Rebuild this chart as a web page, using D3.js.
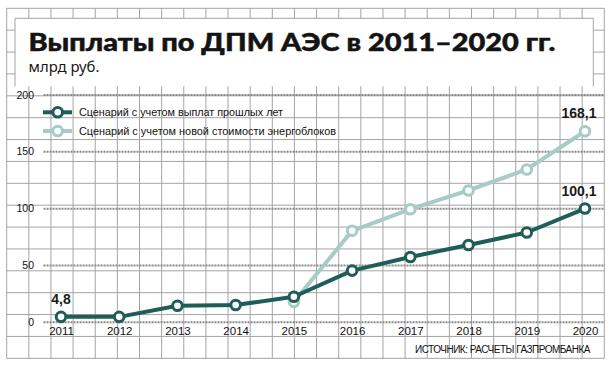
<!DOCTYPE html>
<html><head><meta charset="utf-8">
<script src="https://cdn.jsdelivr.net/npm/d3@7/dist/d3.min.js"></script>
<style>
html,body{margin:0;padding:0;background:#fff;}
svg{display:block;}
</style></head>
<body>
<svg id="chart" width="612" height="366"></svg>
<script>
const title = "Выплаты по ДПМ АЭС в 2011–2020 гг.";
const subtitle = "млрд руб.";
const source = "ИСТОЧНИК: РАСЧЕТЫ ГАЗПРОМБАНКА";
const years = [2011, 2012, 2013, 2014, 2015, 2016, 2017, 2018, 2019, 2020];
const seriesNames = ["Сценарий с учетом выплат прошлых лет", "Сценарий с учетом новой стоимости энергоблоков"];
const pastYears = [2011, 2012, 2013, 2014, 2015, 2016, 2017, 2018, 2019, 2020];
const pastValues = [4.8, 4.8, 14.5, 15.2, 22.5, 45.5, 57.5, 68, 79, 100.1];
const newYears = [2015, 2016, 2017, 2018, 2019, 2020];
const newValues = [18, 80.5, 99.5, 116, 134.5, 168.1];
const yTicks = [0, 50, 100, 150, 200];
const labels = [
  {series: 0, year: 2011, text: "4,8"},
  {series: 0, year: 2020, text: "100,1"},
  {series: 1, year: 2020, text: "168,1"}
];

const svg = d3.select("#chart");
const dark = "#1f5d58", light = "#a7cbc5", gridCol = "#a4a4a4";
const narrow = "'Liberation Sans Narrow','Liberation Sans',Arial,sans-serif";

// graph-paper background
const gx0 = 6.7, gx1 = 604.3, gy0 = 8.3, gy1 = 358.3;
const g0 = svg.append("g");
const nV = 28, nH = 17;
for (let i = 0; i < nV; i++) {
  const x = gx0 + (gx1 - gx0) * i / (nV - 1);
  g0.append("line").attr("x1", x).attr("x2", x).attr("y1", gy0).attr("y2", gy1)
    .attr("stroke", gridCol).attr("stroke-width", 1);
}
for (let j = 0; j < nH; j++) {
  const y = gy0 + (gy1 - gy0) * j / (nH - 1);
  g0.append("line").attr("x1", gx0).attr("x2", gx1).attr("y1", y).attr("y2", y)
    .attr("stroke", gridCol).attr("stroke-width", 1);
}
// title box
g0.append("rect").attr("x", 15).attr("y", 18.3).attr("width", 578.3).attr("height", 68).attr("fill", "#fff");
g0.append("path").attr("d", "M15,86.3V18.3H593.3V86.3").attr("fill", "none").attr("stroke", gridCol).attr("stroke-width", 1);

svg.append("text").attr("x", 28.5).attr("y", 50.5).text(title)
  .attr("font-family", "Lato, Roboto, 'Liberation Sans', sans-serif").attr("font-weight", 900)
  .attr("font-size", 24.5).attr("fill", "#141414")
  .attr("stroke", "#141414").attr("stroke-width", 0.5)
  .attr("textLength", 527).attr("lengthAdjust", "spacingAndGlyphs");
svg.append("text").attr("x", 28.5).attr("y", 72).text(subtitle)
  .attr("font-family", "'Noto Sans', 'Open Sans', sans-serif").attr("font-size", 13.5).attr("fill", "#161616")
  .attr("textLength", 71).attr("lengthAdjust", "spacingAndGlyphs");

// scales
const x = d3.scalePoint().domain(years).range([61, 585]);
const y = d3.scaleLinear().domain([0, 200]).range([322.3, 95]);

// dashed value grid
const gg = svg.append("g");
gg.selectAll("line").data(yTicks).join("line")
  .attr("x1", 43.5).attr("x2", gx1).attr("y1", d => y(d)).attr("y2", d => y(d))
  .attr("stroke", "#8a8a8a").attr("stroke-width", 2).attr("stroke-dasharray", "2,1");

// y axis labels via d3 axis
const yAxis = svg.append("g").attr("transform", "translate(34,0)")
  .call(d3.axisLeft(y).tickValues(yTicks).tickSize(0).tickPadding(0).tickFormat(d3.format("d")));
yAxis.select(".domain").remove();
yAxis.selectAll("text").attr("font-family", narrow).attr("font-size", 10.5).attr("fill", "#111").attr("dy", "0.3em");

// x axis labels
const xAxis = svg.append("g").attr("transform", "translate(0,327)")
  .call(d3.axisBottom(x).tickSize(0).tickPadding(0).tickFormat(d3.format("d")));
xAxis.select(".domain").remove();
xAxis.selectAll("text").attr("font-family", narrow).attr("font-size", 11.5).attr("fill", "#111").attr("dy", "0.71em");

// series
const lineGen = d3.line().x(d => x(d[0])).y(d => y(d[1]));
const newData = newYears.map((yr, i) => [yr, newValues[i]]);
const pastData = pastYears.map((yr, i) => [yr, pastValues[i]]);
const seriesList = [
  {data: newData, color: light},
  {data: pastData, color: dark}
];
seriesList.forEach(s => {
  svg.append("path").datum(s.data).attr("d", lineGen)
    .attr("fill", "none").attr("stroke", s.color).attr("stroke-width", 4)
    .attr("stroke-linejoin", "round");
  svg.append("g").selectAll("circle").data(s.data).join("circle")
    .attr("cx", d => x(d[0])).attr("cy", d => y(d[1])).attr("r", 4.8)
    .attr("fill", "#fff").attr("stroke", s.color).attr("stroke-width", 3);
});

// value labels
const allData = [pastData, newData];
labels.forEach(l => {
  const pt = allData[l.series].find(d => d[0] === l.year);
  svg.append("text").attr("x", x(l.year) - (l.year === 2020 ? 6 : 0)).attr("y", y(pt[1]) - 13)
    .attr("text-anchor", "middle").text(l.text)
    .attr("font-family", "'Liberation Sans', Arial, sans-serif").attr("font-weight", "bold")
    .attr("font-size", 14).attr("fill", "#1a1a1a");
});

// legend
const lg = svg.append("g");
const legendColors = [dark, light];
seriesNames.forEach((name, i) => {
  const cy = 112.3 + i * 18.7;
  lg.append("line").attr("x1", 43).attr("x2", 72).attr("y1", cy).attr("y2", cy)
    .attr("stroke", legendColors[i]).attr("stroke-width", 4);
  lg.append("circle").attr("cx", 57.7).attr("cy", cy).attr("r", 4.8)
    .attr("fill", "#fff").attr("stroke", legendColors[i]).attr("stroke-width", 3);
  lg.append("text").attr("x", 79).attr("y", cy + 3.7).text(name)
    .attr("font-family", narrow).attr("font-size", 10.5).attr("fill", "#111")
    .attr("textLength", i === 0 ? 204 : 257).attr("lengthAdjust", "spacingAndGlyphs");
});

// source
svg.append("text").attr("x", 590).attr("y", 353).attr("text-anchor", "end").text(source)
  .attr("font-family", narrow).attr("font-size", 10).attr("letter-spacing", -0.5).attr("fill", "#111");
</script>
</body></html>
